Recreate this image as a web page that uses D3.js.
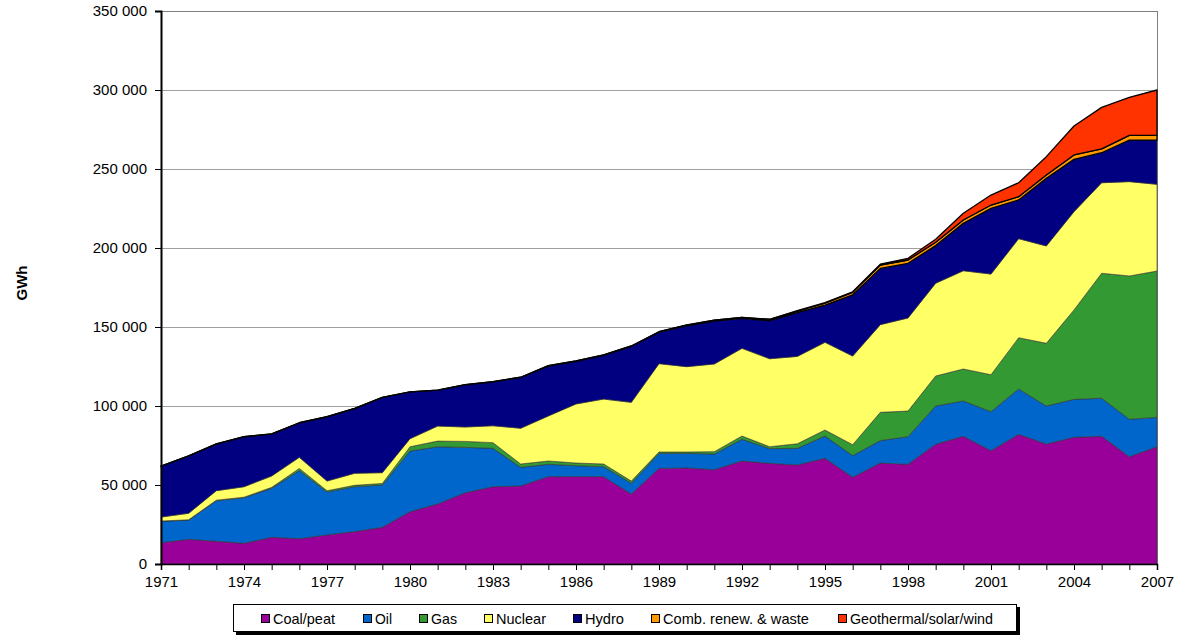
<!DOCTYPE html>
<html><head><meta charset="utf-8">
<script src="https://cdn.jsdelivr.net/npm/d3@7"></script>
<style>body{margin:0;background:#fff}svg{display:block}text{font-family:"Liberation Sans",Arial,sans-serif}</style>
</head><body>
<svg id="c" width="1202" height="642"></svg>
<script>
const years = [1971,1972,1973,1974,1975,1976,1977,1978,1979,1980,1981,1982,1983,1984,1985,1986,1987,1988,1989,1990,1991,1992,1993,1994,1995,1996,1997,1998,1999,2000,2001,2002,2003,2004,2005,2006,2007];
const coal = [13500,15600,14400,13100,16900,16000,18400,20500,23200,33100,38000,45100,48900,49400,55300,55300,55300,44300,60500,60800,59700,65200,63700,62700,66900,54900,63900,63100,75800,80800,71700,82100,75900,80200,80800,67900,74200];
const oil = [13500,12200,25700,28900,31000,43100,27200,28400,26800,38400,36200,28700,24300,11800,7800,6900,6300,6800,9500,9200,9900,13700,9300,10500,14100,13700,14200,17500,24200,22400,24700,28700,24100,24000,24100,23700,18600];
const gas = [200,200,300,300,600,1400,800,900,1000,2700,3600,3800,3600,2100,2100,1700,1700,1400,900,900,1500,2100,1200,2900,3800,6900,17900,16200,19000,20200,23400,32400,39700,56600,79100,90700,92600];
const nuclear = [2500,4100,6000,6600,7200,7000,6100,7600,6800,5100,9500,9100,10700,22600,28500,37400,41100,49800,55900,54000,55500,55500,55700,55300,55500,56100,55500,58900,58700,62200,63700,62700,61600,62200,57300,59700,54900];
const hydro = [32200,36300,29500,31600,26500,21800,40600,41000,47600,29600,22700,26700,27800,32200,31600,27000,27700,35400,19900,25900,27200,18900,24100,27700,23600,38800,35600,34600,23800,30000,41600,24500,42800,33100,19000,26300,28000];
const combRenew = [100,100,100,100,100,100,100,100,100,100,100,100,100,100,200,200,200,300,300,400,500,600,800,1000,1200,1500,2100,2100,2100,2100,2100,2100,2100,2800,2400,3000,3200];
const geoSolarWind = [0,0,0,0,0,0,0,0,0,0,0,0,0,0,0,0,0,0,0,100,100,100,100,200,300,400,600,1100,1900,4300,6300,8800,11600,18300,26300,24100,28500];
const seriesNames = ["Coal/peat","Oil","Gas","Nuclear","Hydro","Comb. renew. & waste","Geothermal/solar/wind"];
const seriesKeys = ["coal","oil","gas","nuclear","hydro","comb","geo"];
const seriesColors = ["#990099","#0066CC","#339933","#FFFF66","#000080","#FF9900","#FF3300"];
const yTicks = [0,50000,100000,150000,200000,250000,300000,350000];
const xTickLabels = [1971,1974,1977,1980,1983,1986,1989,1992,1995,1998,2001,2004,2007];

const seriesData = [coal,oil,gas,nuclear,hydro,combRenew,geoSolarWind];
const rows = years.map((y,i)=>{const r={year:y}; seriesKeys.forEach((k,j)=>r[k]=seriesData[j][i]); return r;});

const svg = d3.select("#c");
const L=161, R=1157, T=11, B=564;
const x = d3.scaleLinear().domain([1971,2007]).range([L,R]);
const y = d3.scaleLinear().domain([0,350000]).range([B,T]);
const fmt = v => d3.format(",")(v).replace(/,/g," ");

// gridlines
svg.append("g").selectAll("line").data(yTicks.filter(d=>d>0)).join("line")
  .attr("x1",L).attr("x2",R).attr("y1",d=>y(d)).attr("y2",d=>y(d))
  .attr("stroke",d=>d===350000?"#808080":"#a0a0a0").attr("stroke-width",1).attr("shape-rendering","crispEdges");
svg.append("line").attr("x1",R).attr("x2",R).attr("y1",T).attr("y2",B).attr("stroke","#808080").attr("shape-rendering","crispEdges");

const stack = d3.stack().keys(seriesKeys)(rows);
const area = d3.area().x(d=>x(d.data.year)).y0(d=>y(d[0])).y1(d=>y(d[1]));
svg.append("g").selectAll("path").data(stack).join("path")
  .attr("d",area).attr("fill",(d,i)=>seriesColors[i])
  .attr("stroke",(d,i)=>i>=5?"#000":"#333").attr("stroke-width",(d,i)=>i>=5?1.3:0.6).attr("stroke-linejoin","round");

// y axis
const yAxis = d3.axisLeft(y).tickValues(yTicks).tickFormat(fmt).tickSize(6).tickPadding(8);
const ga = svg.append("g").attr("transform",`translate(${L},0)`).call(yAxis);
ga.select(".domain").attr("stroke","#000").attr("stroke-width",2);
ga.selectAll(".tick line").attr("stroke","#000");
ga.selectAll("text").attr("font-size",15).attr("font-family","Liberation Sans, Arial").attr("fill","#000");

// x axis
const xAxis = d3.axisBottom(x).tickValues(years).tickFormat(d=>xTickLabels.includes(d)?d:"").tickSize(6).tickPadding(6);
const gx = svg.append("g").attr("transform",`translate(0,${B})`).call(xAxis);
gx.select(".domain").attr("stroke","#000").attr("stroke-width",1.5);
gx.selectAll(".tick line").attr("stroke","#000");
gx.selectAll("text").attr("font-size",15).attr("font-family","Liberation Sans, Arial").attr("fill","#000");

svg.append("text").attr("transform","translate(27,283) rotate(-90)").attr("text-anchor","middle")
  .attr("font-size",15).attr("font-weight","bold").text("GWh");

// legend
const lg = svg.append("g");
lg.append("rect").attr("x",236).attr("y",607).attr("width",784).attr("height",28).attr("fill","#000");
lg.append("rect").attr("x",233.5).attr("y",604.5).attr("width",783).attr("height",27).attr("fill","#fff").attr("stroke","#000").attr("stroke-width",1);
const legX = [261,363,419,484,573,651,838];
const legW = [62,17,26,50,39,146,143];
seriesNames.forEach((n,i)=>{
  lg.append("rect").attr("x",legX[i]+0.5).attr("y",614.5).attr("width",8).attr("height",8)
    .attr("fill",seriesColors[i]).attr("stroke","#000").attr("stroke-width",1);
  lg.append("text").attr("x",legX[i]+12).attr("y",624).attr("font-size",15)
    .attr("textLength",legW[i]).attr("lengthAdjust","spacingAndGlyphs").text(n);
});
</script>
</body></html>
